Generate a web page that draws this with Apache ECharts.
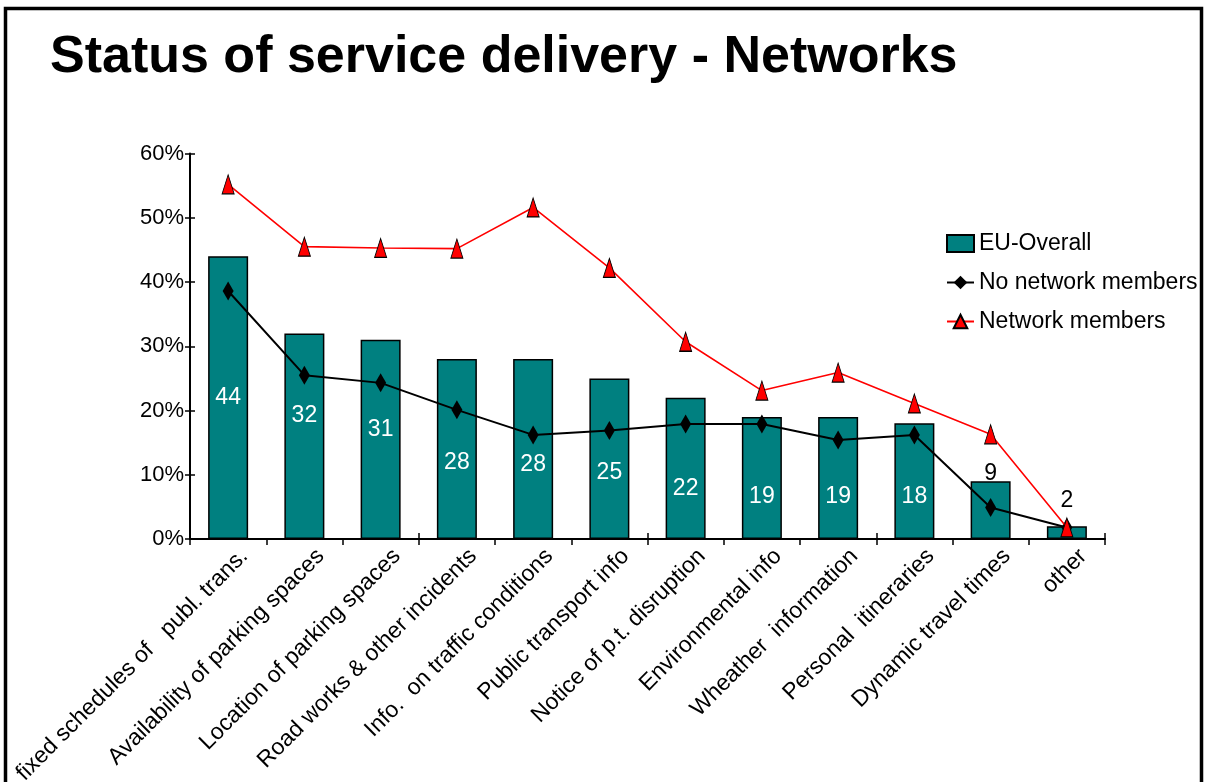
<!DOCTYPE html>
<html>
<head>
<meta charset="utf-8">
<script src="https://cdn.jsdelivr.net/npm/echarts@6/dist/echarts.min.js"></script>
<style>
  html, body { margin: 0; padding: 0; background: #fff; }
  #chart { width: 1206px; height: 782px; }
</style>
</head>
<body>
<div id="chart"></div>
<script>
// Information services offered, share of respondents (%)
const categories = [
  'fixed schedules of   publ. trans.',
  'Availability of parking spaces',
  'Location of parking spaces',
  'Road works & other incidents',
  'Info.  on traffic conditions',
  'Public transport info',
  'Notice of p.t. disruption',
  'Environmental info',
  'Wheather  information',
  'Personal  itineraries',
  'Dynamic travel times',
  'other'
];
const euOverall = [44, 32, 31, 28, 28, 25, 22, 19, 19, 18, 9, 2];
const noNetworkMembers = [38.6, 25.5, 24.3, 20.1, 16.2, 16.9, 17.9, 17.9, 15.4, 16.2, 4.9, 1.8];
const networkMembers = [55.2, 45.5, 45.3, 45.2, 51.6, 42.2, 30.7, 23.1, 25.9, 21.1, 16.3, 1.8];
const yTicks = { min: 0, max: 60, interval: 10 };

const FONT = '"Liberation Sans", Arial, Helvetica, sans-serif';

// vertical nudges (px) that keep the value labels clear of the line markers
const labelNudge = [0, -21, -10, 14, 16, 14, 20, 19, 19, 15, 8, -10];

// small bars carry their value above the bar in black, the rest inside in white
const barData = euOverall.map((v, i) => (v < 10
  ? { value: v, label: { position: 'top', color: '#000', distance: 4, offset: [0, labelNudge[i]] } }
  : { value: v, label: { offset: [0, labelNudge[i]] } }));

const chart = echarts.init(document.getElementById('chart'), null, { renderer: 'canvas' });

chart.setOption({
  backgroundColor: '#ffffff',
  animation: false,
  textStyle: { fontFamily: FONT },
  title: {
    text: 'Status of service delivery - Networks',
    left: 45,
    top: 27,
    textStyle: { fontFamily: FONT, fontSize: 52, fontWeight: 'bold', color: '#000' }
  },
  graphic: [{
    type: 'polyline',
    shape: { points: [[5.5, 800], [5.5, 8.5], [1201.5, 8.5], [1201.5, 800]] },
    style: { stroke: '#000', lineWidth: 3.5, fill: null },
    silent: true
  }],
  legend: {
    orient: 'vertical',
    left: 941,
    top: 227,
    itemWidth: 27,
    itemHeight: 17,
    itemGap: 16,
    textStyle: { fontFamily: FONT, fontSize: 23, color: '#000' },
    data: [
      { name: 'EU-Overall', icon: 'rect' },
      { name: 'No network members' },
      { name: 'Network members' }
    ]
  },
  grid: {
    left: 190, top: 153.5, width: 915, height: 385.5,
    containLabel: false, outerBoundsMode: 'none'
  },
  xAxis: [{
    type: 'category',
    data: categories,
    boundaryGap: true,
    axisLine: { lineStyle: { color: '#000', width: 2 } },
    axisTick: { show: true, length: 6, lineStyle: { color: '#000', width: 1.5 } },
    axisLabel: {
      interval: 0, rotate: 45, margin: 30,
      padding: [0, -23, 0, 0],
      fontFamily: FONT, fontSize: 23, color: '#000'
    },
    splitLine: { show: false }
  }, {
    // companion axis: the inner half of the crossing category ticks
    type: 'category',
    data: categories,
    position: 'bottom',
    boundaryGap: true,
    axisLine: { show: false },
    axisTick: { show: true, inside: true, length: 6, lineStyle: { color: '#000', width: 1.5 } },
    axisLabel: { show: false },
    splitLine: { show: false }
  }],
  yAxis: [{
    type: 'value',
    min: yTicks.min, max: yTicks.max, interval: yTicks.interval,
    axisLine: { show: true, lineStyle: { color: '#000', width: 2 } },
    axisTick: { show: true, length: 5, lineStyle: { color: '#000', width: 1.5 } },
    axisLabel: { formatter: '{value}%', margin: 6, fontFamily: FONT, fontSize: 22, color: '#000' },
    splitLine: { show: false }
  }, {
    // companion axis: the inner half of the crossing percentage ticks
    type: 'value',
    position: 'left',
    min: yTicks.min, max: yTicks.max, interval: yTicks.interval,
    axisLine: { show: false },
    axisTick: { show: true, inside: true, length: 5, lineStyle: { color: '#000', width: 1.5 } },
    axisLabel: { show: false },
    splitLine: { show: false }
  }],
  series: [{
    name: 'EU-Overall',
    type: 'bar',
    data: barData,
    barWidth: 40,
    itemStyle: { color: '#008080', borderColor: '#000', borderWidth: 1.5 },
    label: {
      show: true, position: 'inside', color: '#fff',
      fontFamily: FONT, fontSize: 23
    },
    z: 2
  }, {
    name: 'No network members',
    type: 'line',
    data: noNetworkMembers,
    symbol: 'diamond',
    symbolSize: [11, 19],
    showAllSymbol: true,
    lineStyle: { color: '#000', width: 2 },
    itemStyle: { color: '#000', borderColor: '#000', borderWidth: 0 },
    z: 3
  }, {
    name: 'Network members',
    type: 'line',
    data: networkMembers,
    symbol: 'triangle',
    symbolSize: [12, 19],
    showAllSymbol: true,
    lineStyle: { color: '#ff0000', width: 1.6 },
    itemStyle: { color: '#ff0000', borderColor: '#000', borderWidth: 1 },
    z: 4
  }]
});
</script>
</body>
</html>
